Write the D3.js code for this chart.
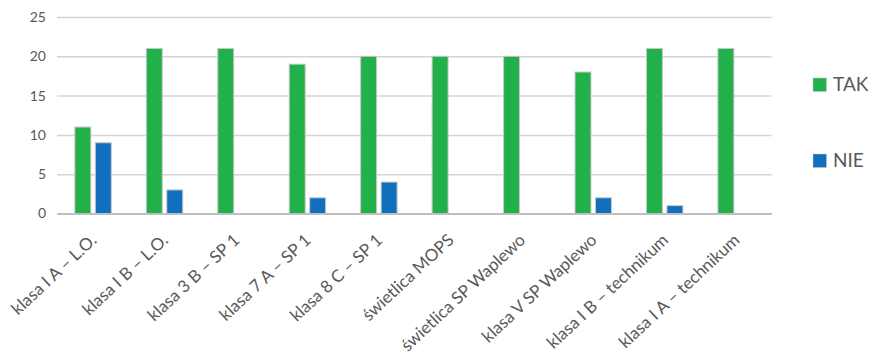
<!DOCTYPE html>
<html><head><meta charset="utf-8">
<script src="https://cdn.jsdelivr.net/npm/d3@7"></script>
<style>body{margin:0;background:#fff}svg{display:block}</style>
</head><body>
<svg id="c" width="872" height="364"></svg>
<script>
const categories = ["klasa I A – L.O.","klasa I B – L.O.","klasa 3 B – SP 1","klasa 7 A – SP 1","klasa 8 C – SP 1","świetlica MOPS","świetlica SP Waplewo","klasa V SP Waplewo","klasa I B – technikum","klasa I A – technikum"];
const seriesNames = ["TAK","NIE"];
const tak = [11,21,21,19,20,20,20,18,21,21];
const nie = [9,3,0,2,4,0,0,2,1,0];
const yTicks = [0,5,10,15,20,25];
const colors = {TAK:"#22b04b", NIE:"#1170bd"};

(function(){
const svg = d3.select("#c");
const font = "Lato, 'Open Sans', sans-serif";
const mLeft = 57, mRight = 771.5, mTop = 17, mBottom = 213.5;
const y = d3.scaleLinear().domain([0,25]).range([mBottom, mTop]);
const x0 = d3.scaleBand().domain(categories).range([mLeft, mRight]).padding(0);
const bw = x0.bandwidth();
const x1 = d3.scaleBand().domain(seriesNames).range([bw*0.25, bw*0.76]).paddingInner(0.22);

// gridlines
const yAxis = d3.axisLeft(y).tickValues(yTicks).tickSize(-(mRight-mLeft)).tickPadding(11);
const gy = svg.append("g").attr("transform",`translate(${mLeft},0)`).call(yAxis);
gy.select(".domain").remove();
gy.selectAll(".tick line").attr("stroke","#d4d4d4").attr("stroke-width",1.5);
gy.selectAll(".tick text").attr("fill","#595959").style("font-family",font).style("font-size","14px");

// bars
const data = categories.map((c,i)=>({c, vals:[{k:"TAK",v:tak[i]},{k:"NIE",v:nie[i]}]}));
const g = svg.append("g");
const grp = g.selectAll("g").data(data).join("g").attr("transform",d=>`translate(${x0(d.c)},0)`);
grp.selectAll("rect").data(d=>d.vals.filter(e=>e.v>0)).join("rect")
  .attr("x",d=>x1(d.k)).attr("width",x1.bandwidth())
  .attr("y",d=>y(d.v)).attr("height",d=>y(0)-y(d.v))
  .attr("fill",d=>colors[d.k]).attr("stroke","#c8c8c8").attr("stroke-width",1);

// x axis baseline and labels
const xAxis = d3.axisBottom(x0).tickSize(0).tickPadding(0);
const gx = svg.append("g").attr("transform",`translate(0,${mBottom})`).call(xAxis);
gx.select(".domain").attr("stroke","#bfbfbf").attr("stroke-width",2);
gx.selectAll(".tick text")
  .attr("fill","#595959").style("font-family",font).style("font-size","17px")
  .attr("text-anchor","end").attr("dy",null).attr("y",null)
  .attr("transform","translate(5,28) rotate(-43)");

// legend
const leg = svg.append("g");
const legY = [84.5, 160.5];
seriesNames.forEach((s,i)=>{
  leg.append("rect").attr("x",813).attr("y",legY[i]-6.5).attr("width",13.5).attr("height",13.5).attr("fill",colors[s]).attr("stroke","#c8c8c8").attr("stroke-width",0.5);
  leg.append("text").attr("x",833).attr("y",legY[i]+6.8).text(s).attr("fill","#595959").style("font-family",font).style("font-size","19px");
});
})();
</script>
</body></html>
